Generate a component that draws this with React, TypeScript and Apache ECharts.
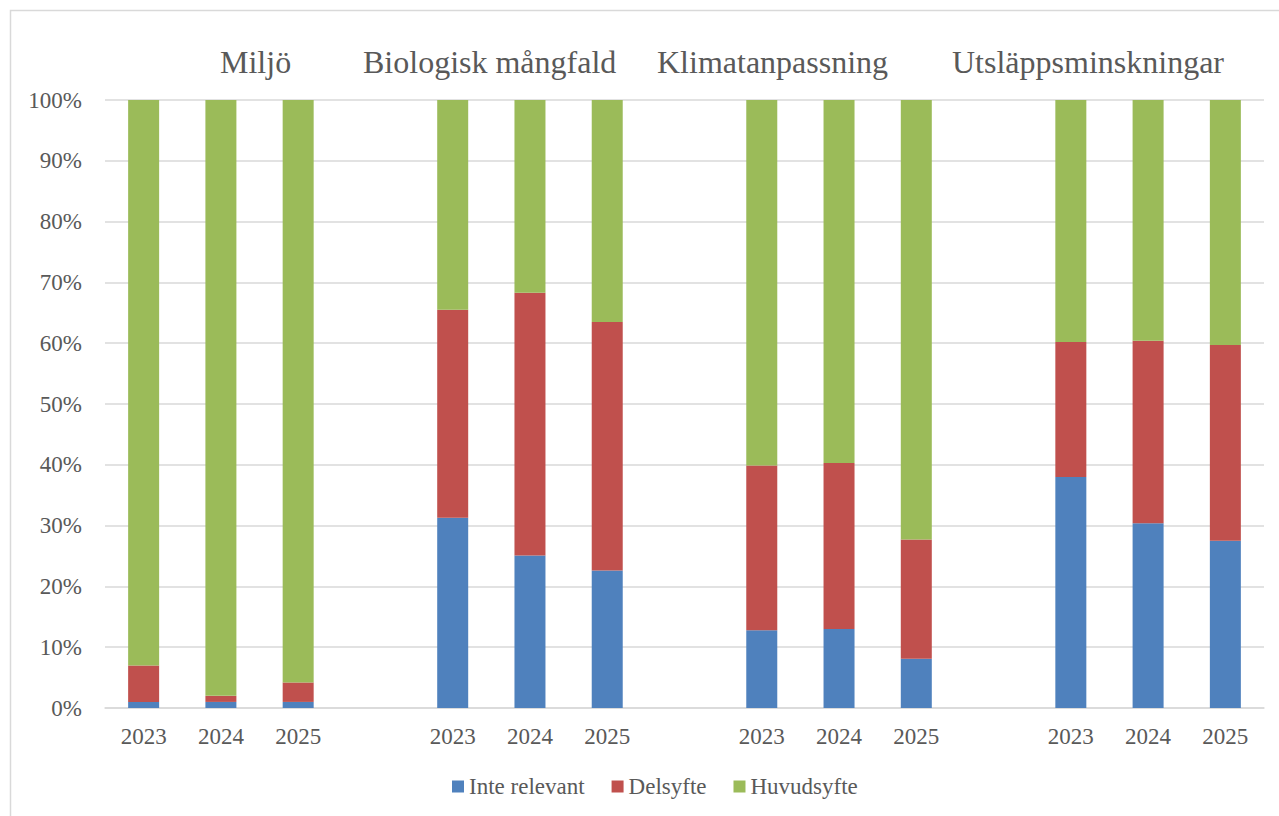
import React, { useEffect, useRef } from "react";
import * as echarts from "echarts";

const categories = ["2023", "2024", "2025", "", "2023", "2024", "2025", "", "2023", "2024", "2025", "", "2023", "2024", "2025"];
const inteRelevant = [1.0, 1.0, 1.0, null, 31.3, 25.1, 22.6, null, 12.8, 13.0, 8.1, null, 38.0, 30.4, 27.5];
const delsyfte = [6.0, 1.0, 3.2, null, 34.2, 43.2, 40.9, null, 27.1, 27.3, 19.6, null, 22.2, 30.0, 32.2];
const huvudsyfte = [93.0, 98.0, 95.8, null, 34.5, 31.7, 36.5, null, 60.1, 59.7, 72.3, null, 39.8, 39.6, 40.3];
const groupTitles = ["Miljö", "Biologisk mångfald", "Klimatanpassning", "Utsläppsminskningar"];
const titleLeft = [220, 363, 657, 952];

const FONT = "Liberation Serif";
const TEXT = "#595959";

export default function App() {
  const ref = useRef<HTMLDivElement>(null);
  useEffect(() => {
    if (!ref.current) return;
    const chart = echarts.init(ref.current, null, { renderer: "svg" });
    const mk = (name: string, data: (number | null)[], color: string) => ({
      name,
      type: "bar",
      stack: "s",
      data,
      barWidth: 31,
      itemStyle: { color },
    });
    chart.setOption({
      animation: false,
      backgroundColor: "#ffffff",
      textStyle: { fontFamily: FONT },
      grid: { left: 105, right: 15, top: 100, bottom: 108, containLabel: false },
      legend: {
        left: 447,
        top: 770,
        itemWidth: 12,
        itemHeight: 12,
        itemGap: 27,
        icon: "rect",
        textStyle: { fontFamily: FONT, fontSize: 23, color: TEXT },
        data: ["Inte relevant", "Delsyfte", "Huvudsyfte"],
      },
      xAxis: {
        type: "category",
        data: categories,
        axisTick: { show: false },
        axisLine: { lineStyle: { color: "#d9d9d9", width: 1.5 } },
        axisLabel: { interval: 0, fontFamily: FONT, fontSize: 23, color: TEXT, margin: 17 },
      },
      yAxis: {
        type: "value",
        min: 0,
        max: 100,
        interval: 10,
        axisLabel: { formatter: "{value}%", fontFamily: FONT, fontSize: 23, color: TEXT, margin: 23 },
        splitLine: { lineStyle: { color: "#d9d9d9", width: 1.5 } },
        axisLine: { show: false },
        axisTick: { show: false },
      },
      graphic: [
        {
          type: "rect",
          shape: { x: 10.5, y: 10.5, width: 1400, height: 1000 },
          style: { fill: "none", stroke: "#d9d9d9", lineWidth: 1.5 },
          silent: true,
        },
        ...groupTitles.map((t, i) => ({
          type: "text",
          x: titleLeft[i],
          y: 62,
          style: { text: t, font: `32px ${FONT}`, fill: TEXT, verticalAlign: "middle", align: "left" },
        })),
      ],
      series: [
        mk("Inte relevant", inteRelevant, "#4F81BD"),
        mk("Delsyfte", delsyfte, "#C0504D"),
        mk("Huvudsyfte", huvudsyfte, "#9BBB59"),
      ],
    });
    return () => chart.dispose();
  }, []);
  return (
    <>
      <style>{`.chart-root svg text { font-family: "Liberation Serif", "Times New Roman", serif !important; }`}</style>
      <div className="chart-root" ref={ref} style={{ position: "fixed", left: 0, top: 0, width: 1279, height: 816 }} />
    </>
  );
}
